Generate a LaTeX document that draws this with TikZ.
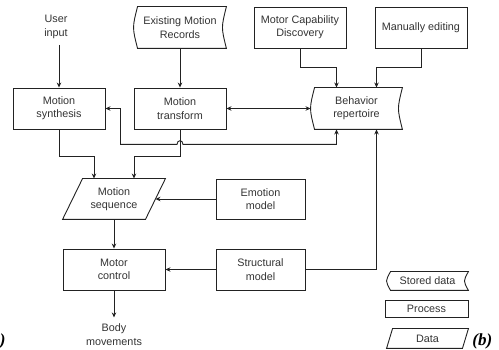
\documentclass[tikz,border=0pt]{standalone}
\usepackage{fontspec}
\setmainfont{Liberation Sans}
\newfontfamily\tagfont{Liberation Serif}
\usepackage{xcolor}
\usetikzlibrary{arrows.meta}
\definecolor{ink}{HTML}{222222}
\definecolor{words}{HTML}{333333}

% outline of a stored-data node (curved sides)
\newcommand{\storedoutline}[1]{%
  \draw ([xshift=4pt]#1.north west) -- (#1.north east)
    .. controls ([xshift=-5.3pt]#1.east) .. (#1.south east)
    -- ([xshift=4pt]#1.south west)
    .. controls ([xshift=-1.3pt]#1.west) .. ([xshift=4pt]#1.north west) -- cycle;}
% outline of a data node (parallelogram)
\newcommand{\dataoutline}[2]{%
  \draw ([xshift=#2]#1.north west) -- ([xshift=#2]#1.north east)
    -- ([xshift=-#2]#1.south east) -- ([xshift=-#2]#1.south west) -- cycle;}

\begin{document}
\begin{tikzpicture}[x=1pt, y=-1pt, ink, line width=0.9pt,
    >={Stealth[length=5pt,width=4.5pt]},
    every node/.style={font=\fontsize{10.8}{13.3}\selectfont, align=center, text=words},
    proc/.style={draw, minimum width=92pt, minimum height=41pt, inner sep=1pt},
    store/.style={minimum width=92pt, minimum height=41pt, inner sep=1pt},
    datum/.style={minimum width=82pt, minimum height=40pt, inner sep=1pt},
    term/.style={inner ysep=6pt}]
    \useasboundingbox (0,0) rectangle (499,350);

    % top row
    \node[term] (user) at (56,27) {User\\input};
    \node[store] (records) at (180,27.5) {Existing Motion\\Records};
    \storedoutline{records}
    \node[proc] (capab) at (300,27.5) {Motor Capability\\Discovery};
    \node[proc] (manual) at (421,27.5) {Manually editing};

    % second row
    \node[proc] (synth) at (59,108.5) {Motion\\synthesis};
    \node[proc] (transf) at (180,108.5) {Motion\\transform};
    \node[store, minimum width=91pt] (reper) at (356.5,108.5) {Behavior\\repertoire};
    \storedoutline{reper}

    % lower part
    \node[datum] (mseq) at (114,199) {Motion\\sequence};
    \dataoutline{mseq}{10pt}
    \node[proc, minimum width=89pt, minimum height=40pt] (emotion) at (260.5,199) {Emotion\\model};
    \node[proc, minimum width=102pt] (motor) at (114,269.5) {Motor\\control};
    \node[proc, minimum width=89pt] (struct) at (260.5,269.5) {Structural\\model};
    \node[term] (body) at (114,334.5) {Body\\movements};

    % legend
    \node[store, minimum width=81pt, minimum height=18pt] (lstore) at (427.5,281) {Stored data};
    \storedoutline{lstore}
    \node[proc, minimum width=83pt, minimum height=17pt] (lproc) at (426.5,308.5) {Process};
    \node[datum, minimum width=75pt, minimum height=19pt] (ldata) at (427.5,338.5) {Data};
    \dataoutline{ldata}{3pt}

    % panel tags
    \node[font=\tagfont\bfseries\itshape\fontsize{17}{17}\selectfont, text=black,
      anchor=base east, inner sep=0pt] (taga) at (6,346) {)};
    \node[font=\tagfont\bfseries\itshape\fontsize{17}{17}\selectfont, text=black,
      anchor=base west, inner sep=0pt] (tagb) at (472,346) {(b)};

    % connectors
    \draw[->] (user.south -| synth.north) -- (synth.north);
    \draw[->] (records.south) -- (transf.north);
    \draw[->] (capab.south) -- ++(0,19.5) -| ([xshift=-20pt]reper.north);
    \draw[->] (manual.south) -- ++(0,19.5) -| ([xshift=20pt]reper.north);
    \draw[<->] (transf.east) -- (reper.west);
    \path (transf.south) ++(0,15) coordinate (hop);
    \draw[<->] (synth.east) -- ++(15,0) |- ([xshift=-3pt]hop)
      .. controls ([shift={(-3pt,5pt)}]hop) and ([shift={(3pt,5pt)}]hop) .. ([xshift=3pt]hop)
      -| ([xshift=-20pt]reper.south);
    \draw[->] (synth.south) -- ++(0,27) -| ([xshift=-20pt]mseq.north);
    \draw[->] (transf.south) -- ++(0,27) -| ([xshift=20pt]mseq.north);
    \draw[->] (emotion.west) -- (mseq.east);
    \draw[->] (mseq.south) -- (motor.north);
    \draw[->] (struct.west) -- (motor.east);
    \draw[->] (struct.east) -| ([xshift=20pt]reper.south);
    \draw[->] (motor.south) -- (body.north);
\end{tikzpicture}
\end{document}
